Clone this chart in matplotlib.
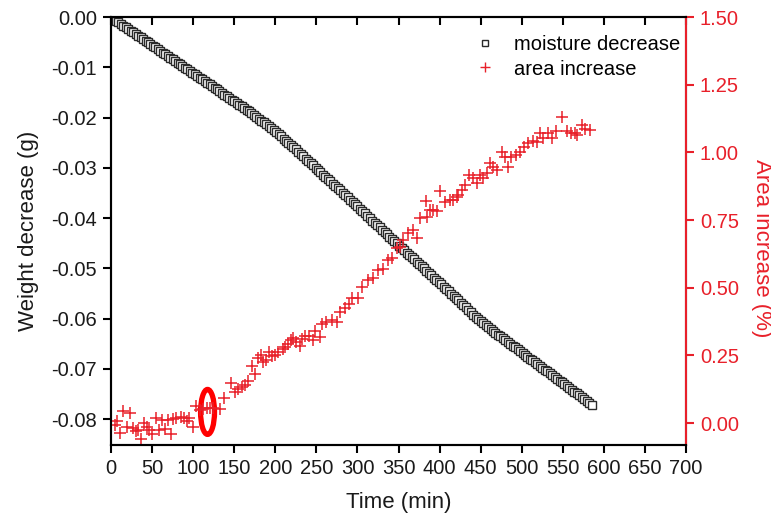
import matplotlib
matplotlib.use("Agg")
import matplotlib.pyplot as plt
from matplotlib.patches import Ellipse
from matplotlib.lines import Line2D

plt.rcParams['font.family'] = ['Liberation Sans', 'DejaVu Sans']

# ---- moisture (weight) data ----
time_black = [0, 3, 6, 9, 12, 15, 18, 21, 24, 27, 30, 33, 36, 39, 42, 45, 48, 51, 54, 57, 60,
              63, 66, 69, 72, 75, 78, 81, 84, 87, 90, 93, 96, 99, 102, 105, 108, 111, 114, 117,
              120, 123, 126, 129, 132, 135, 138, 141, 144, 147, 150, 153, 156, 159, 162, 165, 168,
              171, 174, 177, 180, 183, 186, 189, 192, 195, 198, 201, 204, 207, 210, 213, 216, 219,
              222, 225, 228, 231, 234, 237, 240, 243, 246, 249, 252, 255, 258, 261, 264, 267, 270,
              273, 276, 279, 282, 285, 288, 291, 294, 297, 300, 303, 306, 309, 312, 315, 318, 321,
              324, 327, 330, 333, 336, 339, 342, 345, 348, 351, 354, 357, 360, 363, 366, 369, 372,
              375, 378, 381, 384, 387, 390, 393, 396, 399, 402, 405, 408, 411, 414, 417, 420, 423,
              426, 429, 432, 435, 438, 441, 444, 447, 450, 453, 456, 459, 462, 465, 468, 471, 474,
              477, 480, 483, 486, 489, 492, 495, 498, 501, 504, 507, 510, 513, 516, 519, 522, 525,
              528, 531, 534, 537, 540, 543, 546, 549, 552, 555, 558, 561, 564, 567, 570, 573, 576,
              579, 582, 585]
weight = [0.0000, -0.0003, -0.0007, -0.0010, -0.0013, -0.0017, -0.0020, -0.0024, -0.0027, -0.0030,
          -0.0034, -0.0037, -0.0040, -0.0044, -0.0047, -0.0050, -0.0054, -0.0057, -0.0060, -0.0064,
          -0.0067, -0.0071, -0.0074, -0.0077, -0.0081, -0.0084, -0.0087, -0.0091, -0.0094, -0.0097,
          -0.0101, -0.0104, -0.0108, -0.0111, -0.0114, -0.0118, -0.0121, -0.0124, -0.0128, -0.0131,
          -0.0134, -0.0138, -0.0141, -0.0144, -0.0148, -0.0151, -0.0155, -0.0158, -0.0161, -0.0165,
          -0.0168, -0.0171, -0.0175, -0.0178, -0.0181, -0.0185, -0.0188,
          -0.0191, -0.0195, -0.0198, -0.0202, -0.0206, -0.0209, -0.0213, -0.0217, -0.0221, -0.0225,
          -0.0229, -0.0233, -0.0237, -0.0242, -0.0246, -0.0250, -0.0255, -0.0259, -0.0263, -0.0268,
          -0.0273,
          -0.0277, -0.0282, -0.0286, -0.0291, -0.0295, -0.0300, -0.0304, -0.0309, -0.0314, -0.0318,
          -0.0323, -0.0327, -0.0332, -0.0336, -0.0341, -0.0345, -0.0350, -0.0355, -0.0359, -0.0364,
          -0.0368, -0.0373, -0.0377, -0.0382, -0.0386, -0.0391, -0.0396, -0.0400, -0.0405, -0.0409,
          -0.0414, -0.0418, -0.0423, -0.0428, -0.0432, -0.0437, -0.0441, -0.0446, -0.0450, -0.0455,
          -0.0459, -0.0464, -0.0469, -0.0473, -0.0478, -0.0482, -0.0487, -0.0491, -0.0496, -0.0500,
          -0.0505, -0.0510, -0.0514, -0.0519, -0.0523, -0.0528, -0.0532, -0.0537, -0.0542, -0.0546,
          -0.0551, -0.0555, -0.0560, -0.0564, -0.0569, -0.0573, -0.0578, -0.0583, -0.0587, -0.0592,
          -0.0596, -0.0600, -0.0605, -0.0609, -0.0613, -0.0617, -0.0621, -0.0624, -0.0628, -0.0632,
          -0.0635, -0.0639, -0.0643, -0.0646, -0.0650, -0.0654, -0.0657, -0.0661, -0.0665, -0.0669,
          -0.0672, -0.0676, -0.0680, -0.0683, -0.0687, -0.0691, -0.0694, -0.0698, -0.0702, -0.0705,
          -0.0709, -0.0713, -0.0716, -0.0720, -0.0724, -0.0727, -0.0731, -0.0735, -0.0738, -0.0742,
          -0.0746, -0.0749, -0.0753, -0.0757, -0.0761, -0.0764, -0.0768, -0.0772]

# ---- area increase data ----
time_red = [4.9, 7.3, 11.0, 14.6, 18.9, 22.8, 26.2, 29.8, 32.3, 36.5, 40.2, 43.2, 46.3, 49.3, 54.2,
            59.0, 62.1, 65.1, 68.8, 72.7, 75.5, 79.7, 84.6, 88.9, 91.9, 95.0, 99.8, 102.9, 108.7,
            112.0, 116.3, 120.5, 124.5, 132.7, 137.3, 145.8, 151.0, 155.0, 159.0, 162.5, 166.2,
            171.3, 175.3, 179.3, 182.3, 185.4, 188.7, 192.1, 196.0, 199.7, 203.7, 208.8, 211.8,
            215.2, 219.1, 221.9, 224.6, 229.5, 232.2, 236.2, 241.4, 246.3, 248.4, 254.4, 256.5,
            261.1, 268.7, 274.8, 278.8, 284.9, 289.8, 293.0, 301.0, 305.2, 313.2, 319.3, 325.4,
            331.5, 337.6, 341.7, 347.8, 351.8, 355.9, 361.9, 368.0, 372.2, 376.2, 382.9, 384.3,
            388.4, 392.4, 396.5, 400.5, 406.6, 412.7, 416.7, 420.9, 422.9, 427.0, 431.0, 436.2,
            441.1, 445.2, 449.2, 453.3, 457.4, 461.4, 465.4, 469.9, 475.4, 479.7, 483.7, 487.0,
            492.5, 497.9, 502.8, 508.0, 514.1, 518.3, 521.9, 526.3, 532.4, 536.5, 541.8, 548.7,
            554.8, 559.4, 564.9, 567.4, 573.0, 577.0, 583.1]
area = [-0.007, 0.007, -0.037, 0.046, -0.013, 0.037, -0.020, -0.031, -0.024, -0.060, -0.001, -0.013,
        -0.026, -0.039, 0.017, -0.026, 0.011, -0.021, 0.010, -0.039, 0.014, 0.017, 0.022, 0.017,
        0.009, 0.017, -0.014, 0.062, 0.048, 0.052, 0.054, 0.054, 0.054, 0.052, 0.093, 0.149,
        0.113, 0.124, 0.134, 0.142, 0.155, 0.211, 0.181, 0.242, 0.251, 0.225, 0.233, 0.263,
        0.249, 0.251, 0.262, 0.273, 0.280, 0.292, 0.305, 0.313, 0.299, 0.285, 0.309, 0.320,
        0.321, 0.307, 0.340, 0.319, 0.364, 0.375, 0.380, 0.374, 0.411, 0.426, 0.439, 0.461,
        0.461, 0.504, 0.528, 0.535, 0.565, 0.568, 0.602, 0.608, 0.645, 0.651, 0.676, 0.701,
        0.713, 0.682, 0.756, 0.822, 0.762, 0.787, 0.787, 0.783, 0.857, 0.818, 0.824, 0.824,
        0.836, 0.842, 0.861, 0.879, 0.916, 0.905, 0.885, 0.916, 0.907, 0.922, 0.959, 0.947,
        0.933, 1.002, 0.984, 0.947, 0.984, 0.990, 1.002, 1.018, 1.033, 1.042, 1.039, 1.073,
        1.052, 1.070, 1.052, 1.077, 1.132, 1.079, 1.070, 1.070, 1.064, 1.101, 1.086, 1.082]

x_ticks = [0, 50, 100, 150, 200, 250, 300, 350, 400, 450, 500, 550, 600, 650, 700]
left_ticks = [0.00, -0.01, -0.02, -0.03, -0.04, -0.05, -0.06, -0.07, -0.08]
right_ticks = [0.00, 0.25, 0.50, 0.75, 1.00, 1.25, 1.50]

RED = '#e8202a'
TXT = '#1a1a1a'
fs_tick = 14.5
fs_lab = 16

fig = plt.figure(figsize=(7.71, 5.20), dpi=100)
ax = fig.add_axes([0.144, 0.1442, 0.7458, 0.8231])
ax2 = ax.twinx()

ax.plot(time_black, weight, linestyle='none', marker='s', markersize=5.8,
        markerfacecolor='white', markeredgecolor='#2a2a2a', markeredgewidth=1.0)
ax2.plot(time_red, area, linestyle='none', marker='+', markersize=8.5,
         color=RED, markeredgewidth=1.1)

ax.set_xlim(0, 700)
ax.set_ylim(-0.08517, 0.0)
ax2.set_ylim(-0.0813, 1.5)
ax.set_xticks(x_ticks)
ax.set_xticklabels([str(v) for v in x_ticks], fontsize=fs_tick)
ax.set_yticks(left_ticks)
ax.set_yticklabels(['0.00'] + ['%.2f' % v for v in left_ticks[1:]], fontsize=fs_tick)
ax2.set_yticks(right_ticks)
ax2.set_yticklabels(['%.2f' % v for v in right_ticks], fontsize=fs_tick, color=RED)

for sp in ax.spines.values():
    sp.set_linewidth(1.5)
for name, sp in ax2.spines.items():
    sp.set_linewidth(1.5)
ax2.spines['right'].set_color(RED)

ax.tick_params(axis='both', direction='out', length=6, width=1.5, colors='black', labelcolor=TXT, pad=4)
ax.tick_params(axis='x', top=True, labeltop=False)
ax2.tick_params(axis='y', direction='out', length=6, width=1.5, colors=RED, labelcolor=RED, pad=4)
for t in ax.xaxis.get_major_ticks():
    t.tick2line.set_marker(3)  # top ticks point inward

ax.set_xlabel('Time (min)', fontsize=fs_lab, color=TXT, labelpad=10)
ax.set_ylabel('Weight decrease (g)', fontsize=fs_lab, color=TXT, labelpad=9)
ax2.set_ylabel('Area increase (%)', fontsize=fs_lab, color=RED, rotation=270, labelpad=22)
ax2.yaxis.set_label_coords(1.149, 0.46)

ell = Ellipse((117.5, 0.041), width=17, height=0.166, fill=False, edgecolor='red', linewidth=3.8)
ax2.add_patch(ell)

handles = [Line2D([], [], linestyle='none', marker='s', markersize=5, markerfacecolor='white',
                  markeredgecolor='#2a2a2a', markeredgewidth=1.0),
           Line2D([], [], linestyle='none', marker='+', markersize=7, color=RED, markeredgewidth=1.0)]
ax2.legend(handles, ['moisture decrease', 'area increase'], loc='upper right',
           bbox_to_anchor=(1.006, 0.978), frameon=False, fontsize=fs_tick, handletextpad=0.95,
           labelspacing=0.25, borderaxespad=0.05, handlelength=1.0)

fig.savefig('out.png', dpi=100)
